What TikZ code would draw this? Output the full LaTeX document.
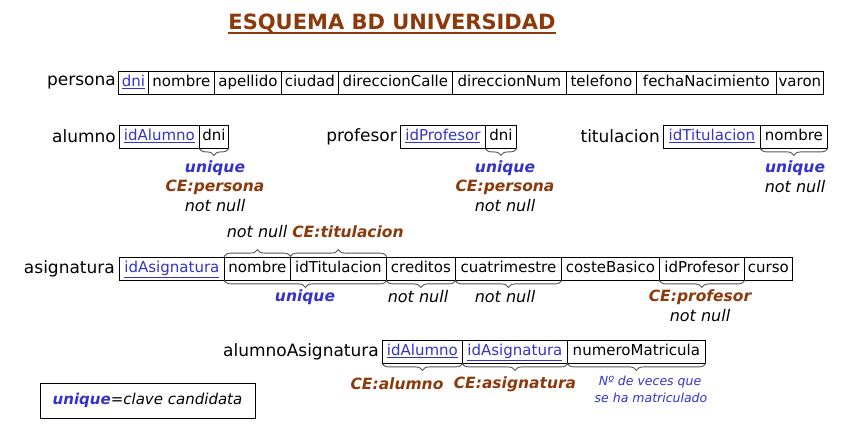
\documentclass[tikz,border=0pt]{standalone}
\usepackage{fontspec}
\setmainfont{DejaVu Sans}
\usetikzlibrary{decorations.pathreplacing}
\definecolor{kblue}{RGB}{51,51,204}
\definecolor{cebrown}{RGB}{140,58,12}
\definecolor{brgray}{RGB}{85,85,85}
\tikzset{
  x=1pt, y=-1pt,
  cell/.style={draw, line width=0.8pt, inner sep=0pt, minimum height=23pt,
    font=\fontsize{15}{16}\selectfont, text height=11.5pt, text depth=3.5pt},
  tlabel/.style={anchor=east, inner sep=1pt, font=\fontsize{17}{18}\selectfont},
  bracedown/.style={draw=brgray, line width=0.9pt, decoration={brace, mirror, amplitude=7pt}, decorate},
  braceup/.style={draw=brgray, line width=0.9pt, decoration={brace, amplitude=7pt}, decorate},
  note/.style={inner sep=0pt, font=\fontsize{16}{17}\selectfont\itshape},
  uq/.style={note, text=kblue, font=\fontsize{15.5}{17}\selectfont\bfseries\itshape},
  ce/.style={note, text=cebrown, font=\fontsize{15.5}{17}\selectfont\bfseries\itshape},
  nn/.style={note, text=black},
  small/.style={inner sep=0pt, text=kblue, font=\fontsize{12.5}{13}\selectfont\itshape},
}
\newcommand\keytxt[1]{\textcolor{kblue}{\underline{#1}}}
\newcommand\cellx[5]{\node[cell, minimum width={#3-#2}, anchor=west] (#1) at (#2,#4) {#5};}
\begin{document}
\begin{tikzpicture}
\useasboundingbox[fill=white] (0,0) rectangle (850,440);

% title
\node[inner sep=0pt, text=cebrown, font=\fontsize{21}{22}\selectfont\bfseries, text depth=0pt] (title) at (392,22) {ESQUEMA BD UNIVERSIDAD};
\draw[cebrown, line width=1.4pt] ([yshift=-3pt]title.south west) -- ([yshift=-3pt]title.south east);

% persona
\node[tlabel] (lpersona) at (117,82.5) {persona};
\cellx{p1}{118}{148}{82.5}{\keytxt{dni}}
\cellx{p2}{148}{214}{82.5}{nombre}
\cellx{p3}{214}{281}{82.5}{apellido}
\cellx{p4}{281}{338}{82.5}{ciudad}
\cellx{p5}{338}{452}{82.5}{direccionCalle}
\cellx{p6}{452}{566}{82.5}{direccionNum}
\cellx{p7}{566}{636}{82.5}{telefono}
\cellx{p8}{636}{776}{82.5}{fechaNacimiento}
\cellx{p9}{776}{823}{82.5}{varon}

% alumno
\node[tlabel] (lalumno) at (117,136.5) {alumno};
\cellx{a1}{119}{199}{136.5}{\keytxt{idAlumno}}
\cellx{a2}{199}{228}{136.5}{dni}
\draw[bracedown] (a2.south west) -- (a2.south east);
\node[uq] (a2u) at (215,168) {unique};
\node[ce] (a2c) at (215,187) {CE:persona};
\node[nn] (a2n) at (215,206) {not null};

% profesor
\node[tlabel] (lprofesor) at (398,136.5) {profesor};
\cellx{f1}{400}{485}{136.5}{\keytxt{idProfesor}}
\cellx{f2}{485}{516}{136.5}{dni}
\draw[bracedown] (f2.south west) -- (f2.south east);
\node[uq] (f2u) at (505,168) {unique};
\node[ce] (f2c) at (505,187) {CE:persona};
\node[nn] (f2n) at (505,206) {not null};

% titulacion
\node[tlabel] (ltitulacion) at (661,136.5) {titulacion};
\cellx{t1}{663}{760}{136.5}{\keytxt{idTitulacion}}
\cellx{t2}{760}{827}{136.5}{nombre}
\draw[bracedown] (t2.south west) -- (t2.south east);
\node[uq] (t2u) at (795,168) {unique};
\node[nn] (t2n) at (795,187) {not null};

% asignatura
\node[tlabel] (lasignatura) at (116,268.5) {asignatura};
\cellx{s1}{119}{224}{268.5}{\keytxt{idAsignatura}}
\cellx{s2}{224}{290}{268.5}{nombre}
\cellx{s3}{290}{386}{268.5}{idTitulacion}
\cellx{s4}{386}{455}{268.5}{creditos}
\cellx{s5}{455}{561}{268.5}{cuatrimestre}
\cellx{s6}{561}{659}{268.5}{costeBasico}
\cellx{s7}{659}{744}{268.5}{idProfesor}
\cellx{s8}{744}{792}{268.5}{curso}
\draw[braceup] (s2.north west) -- (s2.north east);
\draw[braceup] (s3.north west) -- (s3.north east);
\node[nn] (s2n) at (257,232) {not null};
\node[ce] (s3c) at (348,232) {CE:titulacion};
\draw[bracedown] (s2.south west) -- (s3.south east);
\node[uq] (s23u) at (305,297) {unique};
\draw[bracedown] (s4.south west) -- (s4.south east);
\node[nn] (s4n) at (418,297) {not null};
\draw[bracedown] (s5.south west) -- (s5.south east);
\node[nn] (s5n) at (505,297) {not null};
\draw[bracedown] (s7.south west) -- (s7.south east);
\node[ce] (s7c) at (700,297) {CE:profesor};
\node[nn] (s7n) at (700,316) {not null};

% alumnoAsignatura
\node[tlabel] (laa) at (380,351.5) {alumnoAsignatura};
\cellx{m1}{382}{462}{351.5}{\keytxt{idAlumno}}
\cellx{m2}{462}{567}{351.5}{\keytxt{idAsignatura}}
\cellx{m3}{567}{705}{351.5}{numeroMatricula}
\draw[bracedown] (m1.south west) -- (m1.south east);
\draw[bracedown] (m2.south west) -- (m2.south east);
\draw[bracedown] (m3.south west) -- (m3.south east);
\node[ce] (m1c) at (397,384) {CE:alumno};
\node[ce] (m2c) at (515,384) {CE:asignatura};
\node[small] (m3a) at (650,382) {Nº de veces que};
\node[small] (m3b) at (651,398) {se ha matriculado};

% legend
\node[draw, line width=0.8pt, minimum width=215pt, minimum height=35pt, inner sep=0pt] (legend) at (147.5,400.5)
  {\fontsize{15}{16}\selectfont\itshape\textcolor{kblue}{\bfseries unique}=clave candidata};
\end{tikzpicture}
\end{document}
